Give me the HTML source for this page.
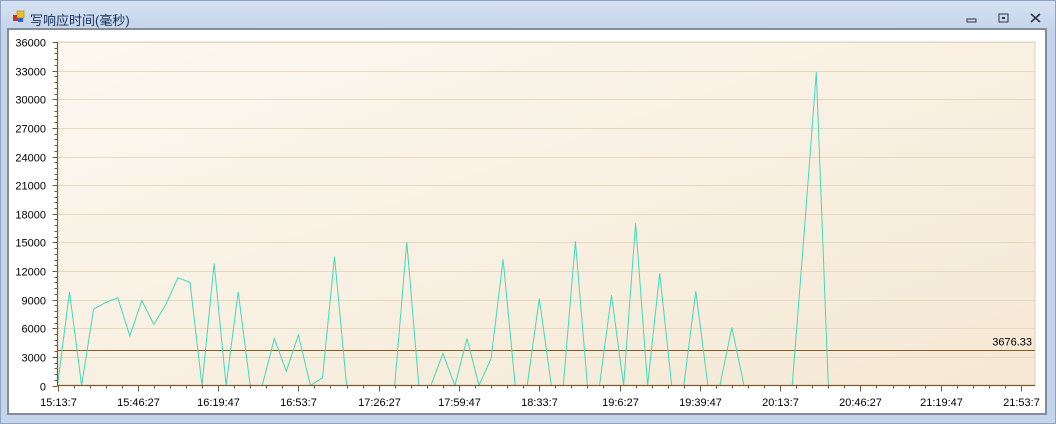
<!DOCTYPE html>
<html><head><meta charset="utf-8"><style>
html,body{margin:0;padding:0;}
body{width:1056px;height:424px;overflow:hidden;background:#c9d8ec;font-family:"Liberation Sans","Noto Sans CJK SC",sans-serif;}
#win{position:absolute;left:0;top:0;width:1054px;height:422px;border:1px solid #8ea4c4;background:linear-gradient(#d6e2f3,#c4d4ea 30px,#c4d4ea);}
#title{position:absolute;left:29px;top:9px;font-size:13px;color:#15305a;}
#client{position:absolute;left:7px;top:28px;width:1036px;height:383px;border:2px solid #848c98;background:#fff;}
</style></head><body>
<div id="win">
<svg width="1056" height="30" style="position:absolute;left:0;top:0">
 <rect x="12" y="14" width="6" height="6" fill="#d03020"/>
 <rect x="16" y="10" width="7" height="7" fill="#f0c020" stroke="#b08010" stroke-width="0.6"/>
 <rect x="17" y="17" width="5" height="4" fill="#3060d0"/>
 <g><rect x="966" y="18" width="9" height="3" fill="none" stroke="#334" stroke-width="1"/></g>
 <g><rect x="998" y="13" width="9" height="8" fill="none" stroke="#334" stroke-width="1"/><rect x="1001" y="16" width="3" height="2" fill="#334"/></g>
 <g><path d="M1030 13 L1039 21 M1039 13 L1030 21" stroke="#334" stroke-width="1.6"/></g>
</svg>
<div id="title">写响应时间(毫秒)</div>
</div>
<div id="client"></div>
<svg id="chart" width="1056" height="424" style="position:absolute;left:0;top:0">
<defs><linearGradient id="bg" x1="0" y1="0" x2="1" y2="1"><stop offset="0" stop-color="#fcf8f0"/><stop offset="1" stop-color="#f5e8d4"/></linearGradient></defs>
</svg>
<script>
const values=[0,9800,0,8000,8700,9200,5200,8900,6400,8500,11300,10800,0,12800,0,9800,0,0,4900,1500,5300,0,800,13500,0,0,0,0,0,15040,0,0,3360,0,4930,0,2830,13220,0,0,9130,0,0,15110,0,0,9450,0,17000,0,11760,0,0,9870,0,0,6090,0,0,0,0,0,16000,32850,0];
const intervalSec=300;
const yTicks=[0,3000,6000,9000,12000,15000,18000,21000,24000,27000,30000,33000,36000];
const xTickLabels=["15:13:7","15:46:27","16:19:47","16:53:7","17:26:27","17:59:47","18:33:7","19:6:27","19:39:47","20:13:7","20:46:27","21:19:47","21:53:7"];
const meanValue=3676.33;
const meanLabel="3676.33";
const L=57.5,R=1035,T=42,B=385.5,yMax=36000,secPer=2000,pxPerSec=(1021-57.5)/24000;
const X=s=>L+s*pxPerSec, Y=v=>B-(v/yMax)*(B-T);
const svg=document.getElementById('chart'),NS='http://www.w3.org/2000/svg';
function mk(t,a,p){const e=document.createElementNS(NS,t);for(const k in a)e.setAttribute(k,a[k]);(p||svg).appendChild(e);return e;}
const plot=mk('rect',{x:L,y:T,width:R-L,height:B-T,fill:'url(#bg)',stroke:'#ddd0b8','stroke-width':1});


yTicks.forEach(v=>{
 const y=Math.round(Y(v))+0.5;
 if(v>0){const g=mk('line',{x1:L,x2:R,y1:y,y2:y,stroke:'#e6d9c2','stroke-width':1});
 
 }
 mk('line',{x1:L-5,x2:L,y1:y,y2:y,stroke:'#7a5a30'});
 const t=mk('text',{x:46,y:y+4,'text-anchor':'end','font-size':11,fill:'#000'});t.textContent=v;
 
 
});
for(let v=0;v<yMax;v+=600){if(v%3000){const y=Math.round(Y(v))+0.5;mk('line',{x1:L-3,x2:L,y1:y,y2:y,stroke:'#7a5a30'});}}
xTickLabels.forEach((s,i)=>{
 const x=Math.round(X(i*secPer))+0.5;
 mk('line',{x1:x,x2:x,y1:B,y2:B+6,stroke:'#7a5a30'});
 const t=mk('text',{x:x,y:406,'text-anchor':'middle','font-size':11,fill:'#000'});t.textContent=s;
 
 
 if(i<xTickLabels.length-1)for(let k=1;k<5;k++){const xm=Math.round(X(i*secPer+k*400))+0.5;mk('line',{x1:xm,x2:xm,y1:B,y2:B+3,stroke:'#7a5a30'});}
});
const my=Math.round(Y(meanValue))+0.5;
const ml=mk('line',{x1:L,x2:R,y1:my,y2:my,stroke:'#8a5a28','stroke-width':1});


const mt=mk('text',{x:1032,y:my-5,'text-anchor':'end','font-size':11,fill:'#000'});mt.textContent=meanLabel;


const pts=values.map((v,i)=>X(i*intervalSec).toFixed(1)+','+Y(v).toFixed(1)).join(' ');
const pl=mk('polyline',{points:pts,fill:'none',stroke:'#3fdcbc','stroke-width':1});


const ax=mk('path',{d:`M${L} ${T} V${B} H${R}`,fill:'none',stroke:'#7a5a30','stroke-width':1.2});


</script>
</body></html>
